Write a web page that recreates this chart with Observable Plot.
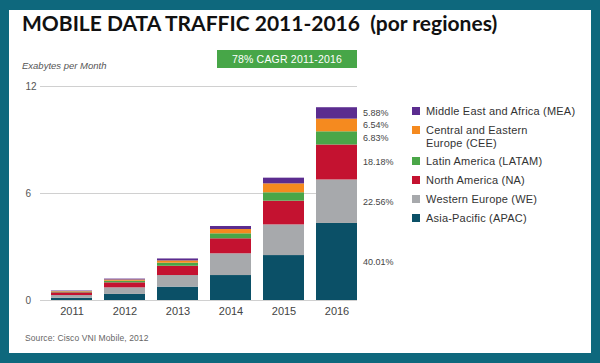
<!DOCTYPE html>
<html>
<head>
<meta charset="utf-8">
<script src="https://cdn.jsdelivr.net/npm/d3@7"></script>
<script src="https://cdn.jsdelivr.net/npm/@observablehq/plot@0.6"></script>
<style>
  html, body { margin: 0; padding: 0; background: #0e687d; }
  #frame { position: relative; width: 600px; height: 363px; background: #0e687d; overflow: hidden; font-family: "Liberation Sans", Arial, sans-serif; }
  #inner { position: absolute; left: 9px; top: 10px; width: 582px; height: 343px; background: #ffffff; }
  #chart { position: absolute; left: 0; top: 0; }
  #title { position: absolute; left: 22px; top: 10px; font-family: Lato, "Open Sans", sans-serif; font-weight: bold; font-size: 21px; color: #111; white-space: pre; }
  #ylab { position: absolute; left: 22px; top: 60px; font-style: italic; font-size: 9.5px; color: #555; }
  #cagr { position: absolute; left: 217px; top: 50px; width: 140px; height: 18px; line-height: 18px; background: #47a648; color: #fff; font-size: 10.5px; text-align: center; letter-spacing: 0.2px; }
  #source { position: absolute; left: 25px; top: 333px; font-size: 8.5px; color: #666; letter-spacing: 0.1px; }
  .lg { position: absolute; left: 412px; font-size: 11px; line-height: 12.5px; color: #333; letter-spacing: 0.2px; }
  .lg .sw { position: absolute; left: 0; top: 2px; width: 8px; height: 8px; }
  .lg .tx { position: absolute; left: 14px; top: 0; white-space: nowrap; }
</style>
</head>
<body>
<div id="frame">
  <div id="inner"></div>
  <div id="chart"></div>
  <div id="title">MOBILE DATA TRAFFIC 2011-2016  (por regiones)</div>
  <div id="ylab">Exabytes per Month</div>
  <div id="cagr">78% CAGR 2011-2016</div>
  <div id="source">Source: Cisco VNI Mobile, 2012</div>
  <div id="legend"></div>
</div>
<script>
// ---- data ----
const years = ["2011", "2012", "2013", "2014", "2015", "2016"];
const regions = ["APAC", "WE", "NA", "LATAM", "CEE", "MEA"];
const regionLabels = ["Asia-Pacific (APAC)", "Western Europe (WE)", "North America (NA)", "Latin America (LATAM)", "Central and Eastern\nEurope (CEE)", "Middle East and Africa (MEA)"];
const colors = ["#0b5067", "#a7a9ac", "#c41230", "#4aa648", "#f58a1f", "#5b2c8f"];
const apac  = [0.13, 0.34, 0.75, 1.40, 2.52, 4.32];
const we    = [0.15, 0.37, 0.65, 1.22, 1.72, 2.44];
const na    = [0.15, 0.28, 0.52, 0.84, 1.33, 1.96];
const latam = [0.04, 0.09, 0.17, 0.28, 0.47, 0.74];
const cee   = [0.03, 0.07, 0.13, 0.24, 0.50, 0.71];
const mea   = [0.03, 0.05, 0.11, 0.17, 0.32, 0.64];
const share2016 = ["40.01%", "22.56%", "18.18%", "6.83%", "6.54%", "5.88%"];
const yTicks = [0, 6, 12];

const series = [apac, we, na, latam, cee, mea];
const data = years.flatMap((yr, i) => regions.map((r, j) => ({year: yr, region: r, value: series[j][i], share: share2016[j]})));
const last = data.filter(d => d.year === years[years.length - 1]);

const chart = Plot.plot({
  width: 600,
  height: 363,
  marginLeft: 40,
  marginRight: 243,
  marginTop: 86,
  marginBottom: 63,
  style: {background: "transparent", fontFamily: "'Liberation Sans', Arial, sans-serif", overflow: "visible"},
  x: {type: "band", domain: years, paddingInner: 0.225, paddingOuter: 0.08, align: 1, label: null},
  y: {domain: [0, 12], label: null},
  color: {domain: regions, range: colors},
  marks: [
    Plot.ruleY(yTicks, {stroke: "#d0d0d0", strokeWidth: 1}),
    Plot.barY(data, {x: "year", y: "value", fill: "region", order: regions}),
    Plot.text(last, Plot.stackY({x: "year", y: "value", z: "region", order: regions, text: "share", textAnchor: "start", dx: 26, fontSize: 9, fill: "#444"})),
    Plot.axisX({tickSize: 0, tickPadding: 7, fontSize: 11, fill: "#444", label: null}),
    Plot.axisY({ticks: yTicks, tickSize: 0, tickPadding: 15, textAnchor: "start", fontSize: 10, fill: "#555", label: null})
  ]
});
document.getElementById("chart").appendChild(chart);

// ---- legend (top to bottom: MEA ... APAC) ----
const legendTops = [212, 193, 174, 155, 124, 105];
const lg = document.getElementById("legend");
regions.forEach((r, j) => {
  const item = document.createElement("div");
  item.className = "lg";
  item.style.top = legendTops[j] + "px";
  const sw = document.createElement("div");
  sw.className = "sw";
  sw.style.background = colors[j];
  const tx = document.createElement("div");
  tx.className = "tx";
  tx.innerHTML = regionLabels[j].replace("\n", "<br>");
  item.appendChild(sw);
  item.appendChild(tx);
  lg.appendChild(item);
});
</script>
</body>
</html>
